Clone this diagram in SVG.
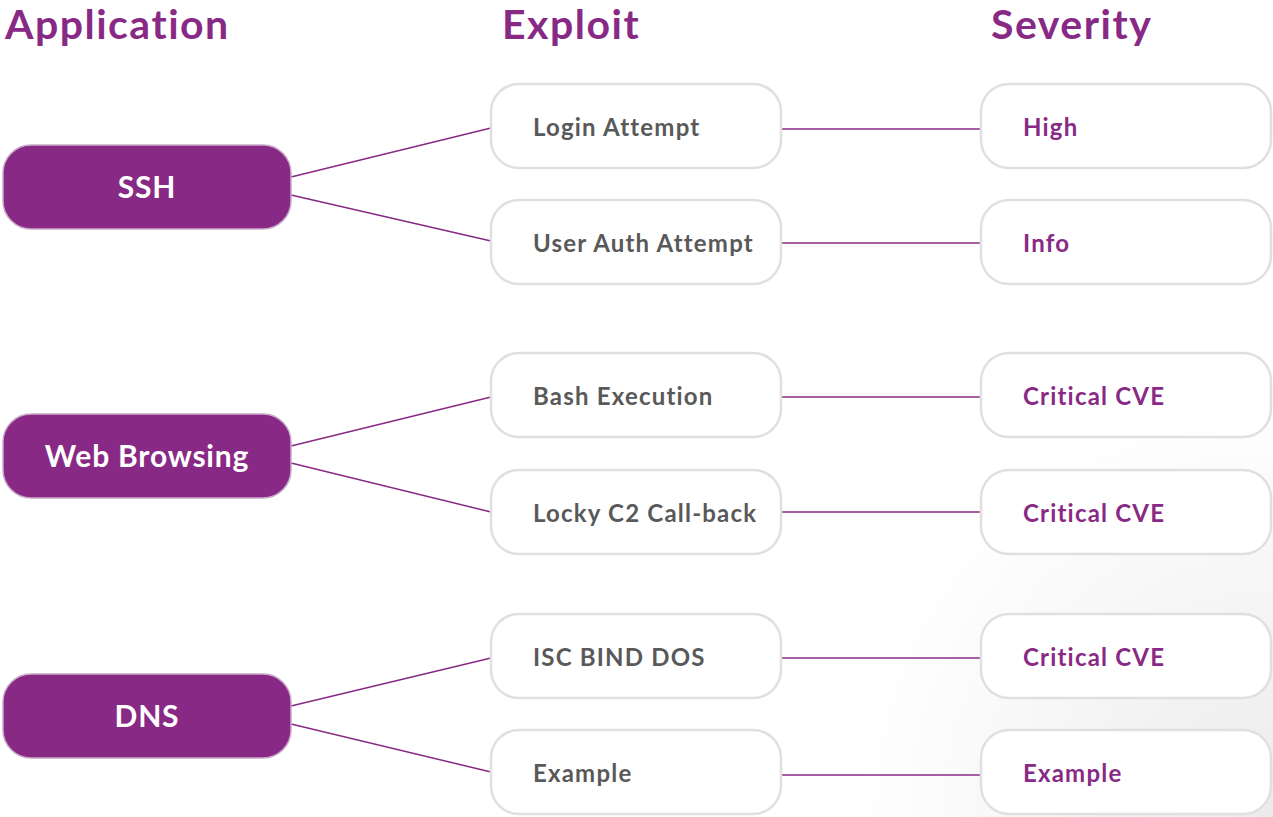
<svg xmlns="http://www.w3.org/2000/svg" width="1273" height="817" viewBox="0 0 1273 817">
<defs>
<radialGradient id="bg" cx="1273" cy="817" r="420" gradientUnits="userSpaceOnUse">
<stop offset="0" stop-color="#ebebed"/>
<stop offset="1" stop-color="#ffffff"/>
</radialGradient>
<style>
.hdr{font-family:Lato,"Open Sans",sans-serif;font-weight:bold;font-size:41px;letter-spacing:1.5px;fill:#882a85}
.app rect{fill:#882a85;stroke:#c9a9c7;stroke-width:1.5}
.app text{font-family:Lato,"Open Sans",sans-serif;font-weight:bold;font-size:30px;letter-spacing:0.8px;fill:#ffffff;text-anchor:middle}
.exp rect,.sev rect{fill:#ffffff;stroke:#e0e0e0;stroke-width:2.5}
.exp text{font-family:Lato,"Open Sans",sans-serif;font-weight:bold;font-size:24px;letter-spacing:1.2px;fill:#595959}
.sev text{font-family:Lato,"Open Sans",sans-serif;font-weight:bold;font-size:24px;letter-spacing:1.2px;fill:#882a85}
#connectors line{stroke:#882a85;stroke-width:1.5}
</style>
</defs>
<rect x="0" y="0" width="1273" height="817" fill="url(#bg)"/>
<text class="hdr" x="5" y="39">Application</text>
<text class="hdr" x="502" y="39">Exploit</text>
<text class="hdr" x="991" y="39">Severity</text>
<g id="connectors">
<line x1="291" y1="177" x2="491" y2="128"/>
<line x1="291" y1="195" x2="491" y2="241"/>
<line x1="291" y1="446" x2="491" y2="397"/>
<line x1="291" y1="463" x2="491" y2="512"/>
<line x1="291" y1="706" x2="491" y2="658"/>
<line x1="291" y1="724" x2="491" y2="772"/>
<line x1="781" y1="129" x2="981" y2="129"/>
<line x1="781" y1="243" x2="981" y2="243"/>
<line x1="781" y1="397" x2="981" y2="397"/>
<line x1="781" y1="512" x2="981" y2="512"/>
<line x1="781" y1="658" x2="981" y2="658"/>
<line x1="781" y1="775" x2="981" y2="775"/>
</g>
<g id="app-ssh" class="app"><rect x="3" y="145" width="288" height="84" rx="28"/><text x="147" y="198">SSH</text></g>
<g id="app-web" class="app"><rect x="3" y="414" width="288" height="84" rx="28"/><text x="147" y="467">Web Browsing</text></g>
<g id="app-dns" class="app"><rect x="3" y="674" width="288" height="84" rx="28"/><text x="147" y="727">DNS</text></g>
<g id="exp-login" class="exp"><rect x="491" y="84" width="290" height="84" rx="28"/><text x="533" y="136">Login Attempt</text></g>
<g id="exp-user" class="exp"><rect x="491" y="200" width="290" height="84" rx="28"/><text x="533" y="252">User Auth Attempt</text></g>
<g id="exp-bash" class="exp"><rect x="491" y="353" width="290" height="84" rx="28"/><text x="533" y="405">Bash Execution</text></g>
<g id="exp-locky" class="exp"><rect x="491" y="470" width="290" height="84" rx="28"/><text x="533" y="522">Locky C2 Call-back</text></g>
<g id="exp-isc" class="exp"><rect x="491" y="614" width="290" height="84" rx="28"/><text x="533" y="666">ISC BIND DOS</text></g>
<g id="exp-example" class="exp"><rect x="491" y="730" width="290" height="84" rx="28"/><text x="533" y="782">Example</text></g>
<g id="sev-high" class="sev"><rect x="981" y="84" width="290" height="84" rx="28"/><text x="1023" y="136">High</text></g>
<g id="sev-info" class="sev"><rect x="981" y="200" width="290" height="84" rx="28"/><text x="1023" y="252">Info</text></g>
<g id="sev-bash" class="sev"><rect x="981" y="353" width="290" height="84" rx="28"/><text x="1023" y="405">Critical CVE</text></g>
<g id="sev-locky" class="sev"><rect x="981" y="470" width="290" height="84" rx="28"/><text x="1023" y="522">Critical CVE</text></g>
<g id="sev-isc" class="sev"><rect x="981" y="614" width="290" height="84" rx="28"/><text x="1023" y="666">Critical CVE</text></g>
<g id="sev-example" class="sev"><rect x="981" y="730" width="290" height="84" rx="28"/><text x="1023" y="782">Example</text></g>
</svg>
